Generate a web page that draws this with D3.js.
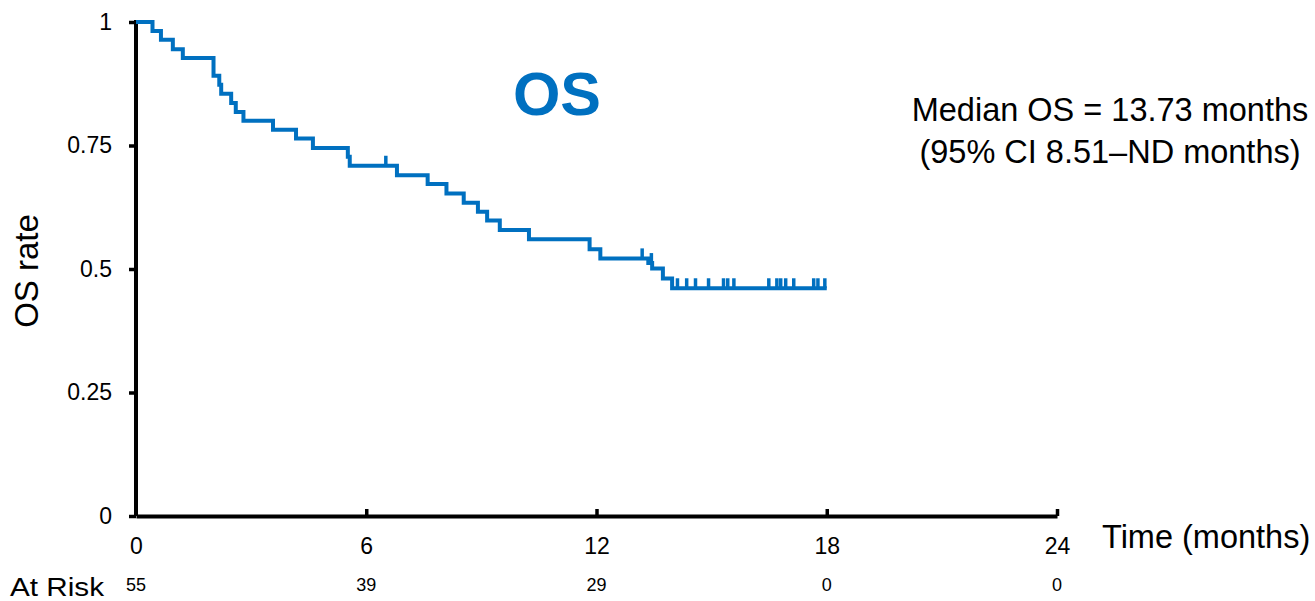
<!DOCTYPE html>
<html>
<head>
<meta charset="utf-8">
<script src="https://cdn.jsdelivr.net/npm/d3@7"></script>
<style>
  html, body { margin: 0; padding: 0; background: #fff; }
  svg { display: block; font-family: "Liberation Sans", Arial, sans-serif; }
</style>
</head>
<body>
<svg id="chart" width="1315" height="601"></svg>
<script>
// Kaplan–Meier overall survival: event times (months) and survival after each step
const eventTimes = [0, 0.43, 0.65, 0.96, 1.22, 2.02, 2.17, 2.22, 2.48, 2.60, 2.80, 3.57, 4.17, 4.61,
  5.52, 5.57, 6.80, 7.60, 8.09, 8.54, 8.91, 9.15, 9.48, 10.24, 11.82, 12.10, 13.35, 13.45, 13.73, 13.97];
const survival = [1, 0.982, 0.964, 0.945, 0.927, 0.891, 0.873, 0.855, 0.836, 0.818, 0.800, 0.782, 0.764, 0.745,
  0.727, 0.709, 0.690, 0.672, 0.653, 0.634, 0.616, 0.598, 0.579, 0.560, 0.540, 0.5215, 0.512, 0.501, 0.481, 0.461];
const followUpEnd = 18.0;
// censored observations (months)
const censorTimes = [6.51, 13.19, 13.43, 14.11, 14.35, 14.58, 14.92, 15.31, 15.42, 15.58,
  16.49, 16.70, 16.80, 16.93, 17.14, 17.66, 17.77, 17.95];

const xTicks = [0, 6, 12, 18, 24];
const yTicks = [0, 0.25, 0.5, 0.75, 1];
const yTickLabels = ["0", "0.25", "0.5", "0.75", "1"];
const atRisk = [55, 39, 29, 0, 0];

const blue = "#0070C0";
const svg = d3.select("#chart");

const x = d3.scaleLinear().domain([0, 24]).range([136, 1057]);
const y = d3.scaleLinear().domain([0, 1]).range([516, 22]);

// survival at time t from the step function
function survAt(t) {
  let s = survival[0];
  for (let i = 0; i < eventTimes.length; i++) if (eventTimes[i] <= t) s = survival[i];
  return s;
}

// axes
const yAxis = d3.axisLeft(y)
  .tickValues(yTicks)
  .tickFormat((d, i) => yTickLabels[i])
  .tickSizeInner(7).tickSizeOuter(0).tickPadding(17);
const gy = svg.append("g").attr("transform", `translate(${x(0)},0)`).call(yAxis);

const xAxis = d3.axisBottom(x)
  .tickValues(xTicks)
  .tickFormat(d3.format("d"))
  .tickSizeInner(-7).tickSizeOuter(0).tickPadding(22);
const gx = svg.append("g").attr("transform", `translate(0,${y(0)})`).call(xAxis);

[gx, gy].forEach(g => {
  g.select(".domain").attr("stroke", "#000").attr("stroke-width", 4);
  g.selectAll(".tick line").attr("stroke", "#000").attr("stroke-width", 3.5);
  g.selectAll(".tick text").attr("fill", "#000").attr("font-size", 23)
    .attr("font-family", "Liberation Sans, Arial, sans-serif");
});
gx.selectAll(".tick").filter(d => d === 0).select("line").remove();
gy.select(".domain").attr("d", `M0,${y(0)}V${y(1) - 2}`);

// survival curve
const pts = eventTimes.map((t, i) => [t, survival[i]]);
pts.push([followUpEnd, survival[survival.length - 1]]);
svg.append("path")
  .datum(pts)
  .attr("fill", "none")
  .attr("stroke", blue)
  .attr("stroke-width", 4)
  .attr("d", d3.line().x(d => x(d[0])).y(d => y(d[1])).curve(d3.curveStepAfter));

// censor marks
svg.append("g").selectAll("line")
  .data(censorTimes)
  .join("line")
  .attr("x1", d => x(d)).attr("x2", d => x(d))
  .attr("y1", d => y(survAt(d)))
  .attr("y2", d => y(survAt(d)) - 10)
  .attr("stroke", blue)
  .attr("stroke-width", 3.5);

// titles and labels
svg.append("text")
  .attr("x", 557).attr("y", 115)
  .attr("text-anchor", "middle")
  .attr("font-size", 61).attr("font-weight", "bold")
  .attr("fill", blue)
  .text("OS");

svg.append("text")
  .attr("x", 1110).attr("y", 121)
  .attr("text-anchor", "middle").attr("font-size", 32.5)
  .text("Median OS = 13.73 months");
svg.append("text")
  .attr("x", 1110).attr("y", 163)
  .attr("text-anchor", "middle").attr("font-size", 32.5)
  .text("(95% CI 8.51\u2013ND months)");

svg.append("text")
  .attr("transform", "translate(38,271) rotate(-90)")
  .attr("text-anchor", "middle").attr("font-size", 33)
  .text("OS rate");

svg.append("text")
  .attr("x", 1102).attr("y", 548)
  .attr("font-size", 32.5)
  .text("Time (months)");

svg.append("text")
  .attr("x", 10).attr("y", 596)
  .attr("font-size", 25)
  .attr("textLength", 94)
  .attr("lengthAdjust", "spacingAndGlyphs")
  .text("At Risk");

svg.append("g").selectAll("text")
  .data(atRisk)
  .join("text")
  .attr("x", (d, i) => x(xTicks[i]))
  .attr("y", 591)
  .attr("text-anchor", "middle")
  .attr("font-size", 18)
  .text(d => d);
</script>
</body>
</html>
